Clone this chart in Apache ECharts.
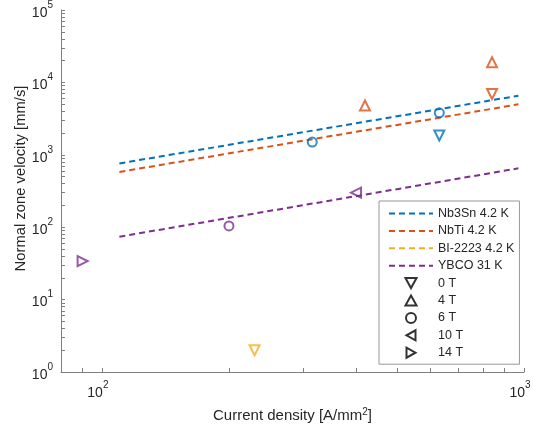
<!DOCTYPE html>
<html>
<head>
<meta charset="utf-8">
<script src="https://cdn.jsdelivr.net/npm/echarts@6/dist/echarts.min.js"></script>
<style>
  html, body { margin: 0; padding: 0; background: #fff; }
  #chart { width: 533px; height: 430px; }
</style>
</head>
<body>
<div id="chart"></div>
<script>
// fitted trend lines, drawn between two current densities
const fitCurrent = [110, 970]
const nb3snFit = [760, 6550]
const nbtiFit = [580, 4980]
const bi2223Fit = []
const ybcoFit = [74, 650]

// measured points: [current density, velocity, field]
const nb3snPoints = [[315, 1500, '6 T'], [630, 3800, '6 T'], [630, 1850, '0 T']]
const nbtiPoints = [[420, 4800, '4 T'], [840, 19000, '4 T'], [840, 6900, '0 T']]
const bi2223Points = [[230, 2, '0 T']]
const ybcoPoints = [[90, 34, '14 T'], [200, 104, '6 T'], [400, 300, '10 T']]

const fieldLabels = ['0 T', '4 T', '6 T', '10 T', '14 T']
const xTicks = [90, 100, 200, 300, 400, 500, 600, 700, 800, 900, 1000]
const xLabels = [100, 1000]
const yLabels = [1, 10, 100, 1000, 10000, 100000]

const conductors = [
    { name: 'Nb3Sn 4.2 K', color: '#0072BD', fit: nb3snFit, points: nb3snPoints },
    { name: 'NbTi 4.2 K', color: '#D95319', fit: nbtiFit, points: nbtiPoints },
    { name: 'BI-2223 4.2 K', color: '#EDB120', fit: bi2223Fit, points: bi2223Points },
    { name: 'YBCO 31 K', color: '#7E2F8E', fit: ybcoFit, points: ybcoPoints }
]

// marker shape per field (matlab v ^ o < >), plus legend icon path
const fieldMarkers = {
    '0 T': { symbol: 'triangle', rotate: 180, icon: 'path://M0,0 L10,0 L5,9 Z' },
    '4 T': { symbol: 'triangle', rotate: 0, icon: 'path://M5,0 L10,9 L0,9 Z' },
    '6 T': { symbol: 'circle', rotate: 0, icon: 'circle' },
    '10 T': { symbol: 'triangle', rotate: 90, icon: 'path://M9,0 L9,10 L0,5 Z' },
    '14 T': { symbol: 'triangle', rotate: -90, icon: 'path://M0,0 L9,5 L0,10 Z' }
}

// minor ticks 1..9 per decade
const yTicks = []
for (let e = 0; e < 5; e++) {
    for (let m = 1; m < 10; m++) yTicks.push(m * Math.pow(10, e))
}
yTicks.push(100000)

const textColor = '#262626'
const axisColor = '#808080'
const supRich = {
    b: { fontSize: 14, lineHeight: 20, verticalAlign: 'bottom', color: textColor },
    sup: { fontSize: 10, lineHeight: 20, verticalAlign: 'top', color: textColor }
}
function powLabel(v) {
    return '{b|10}{sup|' + Math.round(Math.log10(v)) + '}'
}

const series = []
conductors.forEach(function (c) {
    series.push({
        name: c.name,
        type: 'line',
        symbol: 'none',
        silent: true,
        z: 1,
        data: c.fit.map(function (y, i) { return [fitCurrent[i], y] }),
        lineStyle: { color: c.color, width: 2, type: [6, 4] },
        itemStyle: { color: c.color }
    })
})
fieldLabels.forEach(function (f) {
    const data = []
    conductors.forEach(function (c) {
        c.points.forEach(function (p) {
            if (p[2] === f) {
                data.push({ value: [p[0], p[1]], itemStyle: { borderColor: c.color } })
            }
        })
    })
    series.push({
        name: f,
        type: 'scatter',
        symbol: fieldMarkers[f].symbol,
        symbolRotate: fieldMarkers[f].rotate,
        symbolSize: fieldMarkers[f].symbol === 'circle' ? 9 : 10,
        z: 3,
        data: data,
        itemStyle: { color: 'rgba(255,255,255,0)', borderColor: '#000', borderWidth: 2 }
    })
})

const legendData = conductors.map(function (c) {
    return { name: c.name, itemStyle: { opacity: 0 } }
}).concat(fieldLabels.map(function (f) {
    return { name: f, icon: fieldMarkers[f].icon }
}))

const chart = echarts.init(document.getElementById('chart'))
chart.setOption({
    animation: false,
    textStyle: { fontFamily: 'Liberation Sans, Arial, sans-serif' },
    grid: { left: 61, right: 9, top: 10, bottom: 58, outerBoundsMode: 'none', containLabel: false },
    legend: {
        orient: 'vertical',
        left: 379,
        top: 201,
        padding: [6, 5, 5, 9],
        itemWidth: 44,
        itemHeight: 10,
        itemGap: 4.4,
        symbolKeepAspect: true,
        backgroundColor: '#fff',
        borderColor: '#999',
        borderWidth: 1,
        borderRadius: 0,
        textStyle: { fontSize: 12.5, color: textColor },
        data: legendData
    },
    xAxis: {
        type: 'log',
        min: 80,
        max: 1000,
        name: 'Current density [A/mm{sup|2}]',
        nameLocation: 'middle',
        nameGap: 35,
        nameMoveOverlap: false,
        nameTextStyle: {
            fontSize: 15,
            color: textColor,
            rich: {
                sup: { fontSize: 10, verticalAlign: 'top', lineHeight: 18, color: textColor }
            }
        },
        splitLine: { show: false },
        axisLine: { lineStyle: { color: axisColor, width: 1 } },
        axisTick: { inside: true, length: 4, customValues: xTicks, lineStyle: { color: axisColor } },
        axisLabel: {
            customValues: xLabels,
            margin: 8,
            padding: [0, 8, 0, 0],
            showMaxLabel: true,
            hideOverlap: false,
            formatter: powLabel,
            rich: supRich
        }
    },
    yAxis: {
        type: 'log',
        min: 1,
        max: 100000,
        name: 'Normal zone velocity [mm/s]',
        nameLocation: 'middle',
        nameGap: 33,
        nameMoveOverlap: false,
        nameTextStyle: { fontSize: 14.8, color: textColor, padding: [0, 0, 0, 25] },
        splitLine: { show: false },
        axisLine: { show: true, lineStyle: { color: axisColor, width: 1 } },
        axisTick: { show: true, inside: true, length: 4, customValues: yTicks, lineStyle: { color: axisColor } },
        axisLabel: {
            customValues: yLabels,
            margin: 8,
            formatter: powLabel,
            rich: supRich
        }
    },
    series: series
})
</script>
</body>
</html>
